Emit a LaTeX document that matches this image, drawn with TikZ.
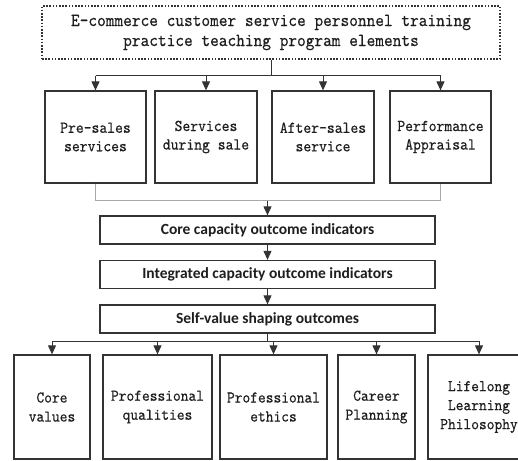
\documentclass[tikz,border=0pt]{standalone}
\usepackage{fontspec}
\newfontfamily\calib{Carlito}
\newfontfamily\simf{lmmono10-regular.otf}[FakeBold=0.3,FakeStretch=0.9]
\usetikzlibrary{arrows.meta}
\definecolor{edge}{HTML}{333333}
\definecolor{txt}{HTML}{1E1E1E}
\definecolor{lite}{HTML}{A8A8A8}
\tikzset{
  box/.style={draw=edge, line width=1.3pt, text=txt, align=center, inner sep=0pt, anchor=center},
  topbox/.style={box, line width=1.2pt, dash pattern=on 1.6pt off 1.6pt,
     font=\simf\fontsize{18.4}{20}\selectfont},
  rowone/.style={box, font=\simf\fontsize{16.6}{18.5}\selectfont},
  mid/.style={box, font=\calib\bfseries\fontsize{15.5}{18}\selectfont},
  rowtwo/.style={box, font=\simf\fontsize{16.4}{19}\selectfont},
  link/.style={draw=edge, line width=1pt},
  greylink/.style={draw=lite, line width=1pt},
  arr/.style={link, -{Triangle[width=8pt,length=9pt]}},
}
\begin{document}
\begin{tikzpicture}[x=1pt,y=-1pt]
\useasboundingbox (0,0) rectangle (518,460);
\clip (0,0) rectangle (518,460);
\fill[white] (0,0) rectangle (518,460);

\node[topbox, minimum width=458pt, minimum height=53pt] (top) at (271,32.5)
  {E-commerce customer service personnel training\\practice teaching program elements};

\node[rowone, minimum width=101pt, minimum height=92pt] (r1) at (95.5,137) {Pre-sales\\services};
\node[rowone, minimum width=102pt, minimum height=92pt] (r2) at (206,137) {Services\\during sale};
\node[rowone, minimum width=102pt, minimum height=92pt] (r3) at (323,137) {After-sales\\service};
\node[rowone, minimum width=101pt, minimum height=92pt] (r4) at (440.5,137) {Performance\\Appraisal};

\node[mid, minimum width=335pt, minimum height=28pt] (core) at (267.5,230) {Core capacity outcome indicators};
\node[mid, minimum width=335pt, minimum height=28pt] (integ) at (267.5,274.5) {Integrated capacity outcome indicators};
\node[mid, minimum width=335pt, minimum height=28pt] (self) at (267.5,319) {Self-value shaping outcomes};

\node[rowtwo, minimum width=76pt, minimum height=104pt] (b1) at (52,407) {Core\\values};
\node[rowtwo, minimum width=109pt, minimum height=104pt] (b2) at (157.5,407) {Professional\\qualities};
\node[rowtwo, minimum width=107pt, minimum height=104pt] (b3) at (273.5,407) {Professional\\ethics};
\node[rowtwo, minimum width=77pt, minimum height=104pt] (b4) at (376.5,407) {Career\\Planning};
\node[rowtwo, minimum width=102pt, minimum height=104pt] (b5) at (479,407) {Lifelong\\Learning\\Philosophy};

% top fan-out
\coordinate (jt) at (271,75.5);
\draw[link] (top.south) -- (jt);
\draw[link] (r1.north |- jt) -- (r4.north |- jt);
\foreach \n in {r1,r2,r3,r4} \draw[arr] (\n.north |- jt) -- (\n.north);

% row one gather
\coordinate (jm) at (267.5,200.5);
\draw[greylink] (r1.south) -- (r1.south |- jm) -- (r4.south |- jm) -- (r4.south);
\draw[arr] (core.north |- jm) -- (core.north);
\draw[arr] (core.south) -- (integ.north);
\draw[arr] (integ.south) -- (self.north);

% bottom fan-out
\coordinate (jb) at (267.5,341);
\draw[link] (self.south) -- (jb);
\draw[link] (b1.north |- jb) -- (b5.north |- jb);
\foreach \n in {b1,b2,b3,b4,b5} \draw[arr] (\n.north |- jb) -- (\n.north);
\end{tikzpicture}
\end{document}
